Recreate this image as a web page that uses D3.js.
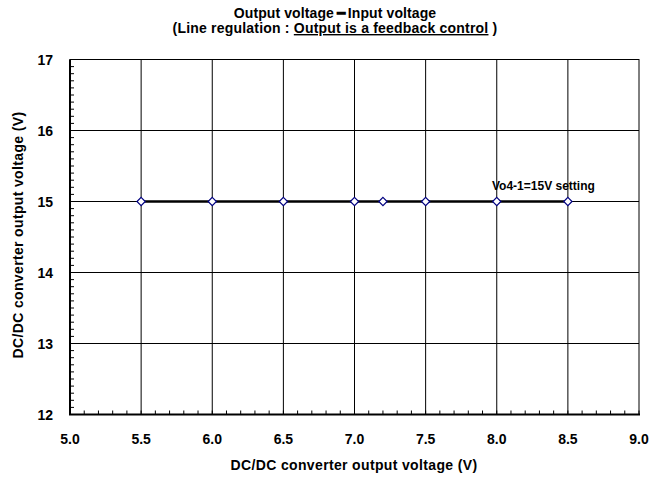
<!DOCTYPE html>
<html><head><meta charset="utf-8">
<script src="https://cdn.jsdelivr.net/npm/d3@7"></script>
<style>body{margin:0;background:#fff}svg{display:block;font-family:"Liberation Sans",Arial,sans-serif;font-weight:bold}</style>
</head><body><svg id="c" width="657" height="479"></svg>
<script>
const inputV = [5.5, 6.0, 6.5, 7.0, 7.2, 7.5, 8.0, 8.5];
const outputV = [15, 15, 15, 15, 15, 15, 15, 15];
const xTicks = [5.0, 5.5, 6.0, 6.5, 7.0, 7.5, 8.0, 8.5, 9.0];
const yTicks = [12, 13, 14, 15, 16, 17];
const seriesLabel = "Vo4-1=15V setting";

const svg = d3.select("#c");
const L = 70, R = 639, T = 59.5, B = 414.5;
const x = d3.scaleLinear().domain([5, 9]).range([L, R]);
const y = d3.scaleLinear().domain([12, 17]).range([B, T]);

// grid
const g = svg.append("g");
g.selectAll(".vx").data(xTicks.slice(1, -1)).enter().append("line")
  .attr("x1", d => x(d)).attr("x2", d => x(d)).attr("y1", T).attr("y2", B)
  .attr("stroke", "#000").attr("stroke-width", 1);
g.selectAll(".hy").data(yTicks.slice(1, -1)).enter().append("line")
  .attr("x1", L).attr("x2", R).attr("y1", d => y(d)).attr("y2", d => y(d))
  .attr("stroke", "#000").attr("stroke-width", 1);
// frame
svg.append("rect").attr("x", L).attr("y", T).attr("width", R - L).attr("height", B - T)
  .attr("fill", "none").attr("stroke", "#000").attr("stroke-width", 1);

// minor ticks
const xMinor = d3.range(50, 91).map(v => v / 10);
const yMinor = d3.range(120, 171).map(v => v / 10);
svg.append("g").selectAll("line").data(xMinor).enter().append("line")
  .attr("x1", d => x(d)).attr("x2", d => x(d)).attr("y1", B).attr("y2", B - 4)
  .attr("stroke", "#000");
svg.append("g").selectAll("line").data(yMinor).enter().append("line")
  .attr("x1", L).attr("x2", L + 4).attr("y1", d => y(d)).attr("y2", d => y(d))
  .attr("stroke", "#000");
// thicker bottom/left axis
svg.append("line").attr("x1", L - 1).attr("x2", R + 1).attr("y1", B).attr("y2", B).attr("stroke", "#000").attr("stroke-width", 2);
svg.append("line").attr("x1", L).attr("x2", L).attr("y1", T).attr("y2", B).attr("stroke", "#000").attr("stroke-width", 2);

// tick labels
svg.append("g").selectAll("text").data(xTicks).enter().append("text")
  .attr("x", d => x(d)).attr("y", 444).attr("text-anchor", "middle")
  .attr("font-size", 14).text(d => d.toFixed(1));
svg.append("g").selectAll("text").data(yTicks).enter().append("text")
  .attr("x", 53).attr("y", d => y(d) + 5).attr("text-anchor", "end")
  .attr("font-size", 14).text(d => d);

// line
const pts = inputV.map((v, i) => [v, outputV[i]]);
svg.append("path").datum(pts)
  .attr("d", d3.line().x(d => x(d[0])).y(d => y(d[1])))
  .attr("fill", "none").attr("stroke", "#000").attr("stroke-width", 2.7);
svg.append("g").selectAll("path").data(pts).enter().append("path")
  .attr("d", d3.symbol().type(d3.symbolDiamond2).size(44))
  .attr("transform", d => `translate(${x(d[0])},${y(d[1])})`)
  .attr("fill", "#fff").attr("stroke", "#000080").attr("stroke-width", 1.2);

svg.append("text").attr("x", 492).attr("y", 190).attr("font-size", 12).text(seriesLabel);

// titles
svg.append("text").attr("x", 335).attr("y", 18).attr("text-anchor", "middle").attr("font-size", 14)
  .attr("letter-spacing", 0.1)
  .text("Output voltage\u2009\u2501\u2009Input voltage");
const t2 = svg.append("text").attr("x", 335).attr("y", 33).attr("text-anchor", "middle").attr("font-size", 14)
  .attr("letter-spacing", 0.2);
t2.append("tspan").text("(Line regulation : ");
t2.append("tspan").attr("text-decoration", "underline").text("Output is a feedback control");
t2.append("tspan").text(" )");

svg.append("text").attr("x", 354).attr("y", 470).attr("text-anchor", "middle").attr("font-size", 14)
  .attr("letter-spacing", 0.35)
  .text("DC/DC converter output voltage (V)");
svg.append("text").attr("transform", "translate(23,235) rotate(-90)").attr("text-anchor", "middle").attr("font-size", 14)
  .attr("letter-spacing", 0.35)
  .text("DC/DC converter output voltage (V)");
</script></body></html>
